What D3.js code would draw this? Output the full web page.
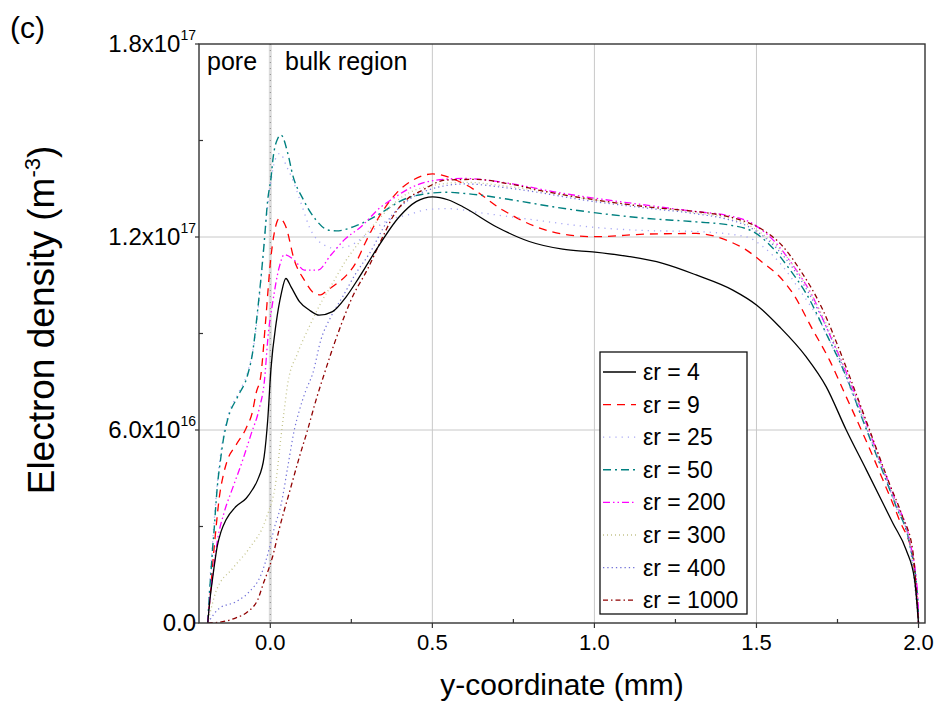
<!DOCTYPE html>
<html><head><meta charset="utf-8">
<script src="https://cdn.jsdelivr.net/npm/d3@7"></script>
<style>body{margin:0;background:#fff} svg{display:block} text{font-family:"Liberation Sans",Arial,Helvetica,sans-serif;fill:#000}</style>
</head><body><svg id="c" width="940" height="705"></svg>
<script>
// ---- data (x: y-coordinate in mm, value: electron density in 1e16 m^-3) ----
const xTicks = [0, 0.5, 1.0, 1.5, 2.0];
const xTickLabels = ["0.0", "0.5", "1.0", "1.5", "2.0"];
const xMinorTicks = [-0.25, 0.25, 0.75, 1.25, 1.75];
const yTicks = [0, 6, 12, 18];
const yTickMantissa = ["0.0", "6.0", "1.2", "1.8"];
const yTickExponent = ["", "16", "17", "17"];
const yMinorTicks = [3, 9, 15];
const legendLabels = ["4", "9", "25", "50", "200", "300", "400", "1000"];

const er4 = [[-0.193,0],[-0.188,0.56],[-0.178,1.39],[-0.163,2.42],[-0.152,2.84],[-0.137,3.2],[-0.106,3.62],[-0.075,3.87],[-0.055,4.15],[-0.039,4.45],[-0.019,5.17],[-0.008,6.31],[0.002,7.9],[0.018,9.32],[0.033,10.2],[0.048,10.71],[0.064,10.45],[0.09,9.99],[0.12,9.73],[0.151,9.57],[0.192,9.68],[0.234,10.14],[0.275,10.76],[0.326,11.59],[0.398,12.63],[0.45,13.1],[0.501,13.25],[0.55,13.15],[0.594,12.94],[0.697,12.32],[0.799,11.86],[0.902,11.62],[1.002,11.53],[1.108,11.39],[1.211,11.18],[1.314,10.82],[1.427,10.35],[1.501,9.88],[1.571,9.21],[1.653,8.28],[1.715,7.35],[1.777,6.0],[1.839,4.76],[1.921,3.1],[1.962,2.27],[1.988,1.34],[2.0,0]];
const er9 = [[-0.193,0],[-0.185,0.9],[-0.178,1.8],[-0.168,2.9],[-0.157,3.93],[-0.145,4.6],[-0.132,5.07],[-0.106,5.53],[-0.075,6.05],[-0.055,6.57],[-0.044,7.14],[-0.029,7.71],[-0.015,9.32],[0.002,11.39],[0.012,12.11],[0.028,12.58],[0.048,12.32],[0.074,11.28],[0.105,10.66],[0.136,10.25],[0.155,10.2],[0.177,10.35],[0.205,10.55],[0.234,10.8],[0.264,11.2],[0.292,11.8],[0.342,12.73],[0.388,13.35],[0.44,13.77],[0.501,13.96],[0.604,13.62],[0.717,12.84],[0.82,12.32],[0.923,12.06],[1.005,12.01],[1.16,12.09],[1.314,12.11],[1.417,11.86],[1.468,11.6],[1.52,11.2],[1.571,10.77],[1.612,10.25],[1.674,9.11],[1.725,8.18],[1.777,7.03],[1.828,5.9],[1.89,4.45],[1.941,3.2],[1.982,2.06],[2.0,0]];
const er25 = [[-0.193,0],[-0.188,1.0],[-0.178,2.5],[-0.163,4.4],[-0.145,5.8],[-0.132,6.4],[-0.101,7.1],[-0.07,7.8],[-0.05,8.7],[-0.03,10.5],[-0.015,12.3],[0.0,13.6],[0.015,14.4],[0.03,14.6],[0.05,14.2],[0.064,13.9],[0.1,12.9],[0.12,12.32],[0.172,11.72],[0.2,11.65],[0.25,11.75],[0.3,12.1],[0.36,12.5],[0.429,12.7],[0.49,12.86],[0.55,12.88],[0.65,12.75],[0.8,12.55],[1.0,12.3],[1.16,12.2],[1.314,12.17],[1.47,12.0],[1.52,11.7],[1.58,11.1],[1.63,10.4],[1.7,9.3],[1.777,7.6],[1.828,6.3],[1.88,5.0],[1.931,3.6],[1.972,2.5],[2.0,0]];
const er50 = [[-0.193,0],[-0.188,0.87],[-0.183,1.59],[-0.178,2.32],[-0.173,2.94],[-0.168,3.67],[-0.163,4.29],[-0.155,4.96],[-0.145,5.69],[-0.132,6.31],[-0.101,7.03],[-0.07,7.71],[-0.055,8.38],[-0.039,9.73],[-0.019,11.8],[-0.008,13.15],[0.002,13.82],[0.009,14.49],[0.023,15.06],[0.033,15.17],[0.054,14.6],[0.069,13.93],[0.1,13.2],[0.141,12.53],[0.177,12.22],[0.203,12.19],[0.269,12.37],[0.331,12.68],[0.372,12.94],[0.398,13.1],[0.47,13.33],[0.542,13.39],[0.604,13.35],[0.748,13.15],[0.872,12.94],[1.005,12.75],[1.16,12.58],[1.314,12.47],[1.417,12.37],[1.489,12.17],[1.551,11.65],[1.602,11.0],[1.653,10.25],[1.715,9.0],[1.777,7.66],[1.828,6.31],[1.88,4.96],[1.931,3.62],[1.972,2.48],[1.998,0.72],[2.0,0]];
const er200 = [[-0.193,0],[-0.185,0.9],[-0.178,1.44],[-0.163,2.58],[-0.142,3.45],[-0.116,4.2],[-0.085,5.07],[-0.06,5.85],[-0.034,6.67],[-0.019,7.45],[-0.006,9.01],[0.007,9.94],[0.028,11.08],[0.043,11.45],[0.074,11.28],[0.105,10.97],[0.146,10.97],[0.187,11.44],[0.228,11.91],[0.28,12.32],[0.342,12.94],[0.372,13.15],[0.429,13.51],[0.501,13.75],[0.594,13.82],[0.748,13.65],[0.872,13.41],[1.005,13.2],[1.16,12.99],[1.314,12.79],[1.406,12.68],[1.478,12.47],[1.551,11.91],[1.623,10.97],[1.674,10.14],[1.715,9.21],[1.777,7.8],[1.828,6.5],[1.88,5.1],[1.931,3.75],[1.972,2.6],[1.998,0.8],[2.0,0]];
const er300 = [[-0.193,0],[-0.18,0.55],[-0.168,0.97],[-0.116,1.7],[-0.065,2.32],[-0.013,3.25],[0.018,4.45],[0.033,5.79],[0.043,6.62],[0.054,7.45],[0.084,8.38],[0.12,9.21],[0.161,10.04],[0.192,10.56],[0.234,11.28],[0.264,11.7],[0.33,12.5],[0.4,13.2],[0.5,13.6],[0.6,13.7],[0.75,13.55],[1.0,13.15],[1.16,12.95],[1.314,12.75],[1.41,12.6],[1.47,12.4],[1.53,12.0],[1.6,11.3],[1.67,10.2],[1.72,9.2],[1.777,7.75],[1.828,6.45],[1.88,5.05],[1.931,3.7],[1.972,2.55],[2.0,0]];
const er400 = [[-0.193,0],[-0.157,0.46],[-0.106,0.66],[-0.065,0.97],[-0.029,1.49],[-0.003,2.32],[0.012,2.94],[0.033,3.67],[0.054,4.86],[0.074,6.0],[0.09,6.62],[0.11,7.24],[0.131,7.76],[0.156,8.8],[0.187,9.52],[0.223,10.14],[0.264,10.87],[0.306,11.49],[0.362,12.5],[0.42,13.1],[0.5,13.5],[0.6,13.65],[0.75,13.5],[1.0,13.1],[1.16,12.9],[1.314,12.72],[1.41,12.55],[1.47,12.35],[1.53,11.95],[1.6,11.2],[1.67,10.1],[1.72,9.1],[1.777,7.7],[1.828,6.35],[1.88,5.0],[1.931,3.65],[1.972,2.5],[2.0,0]];
const er1000 = [[-0.193,0],[-0.147,0.04],[-0.106,0.16],[-0.07,0.35],[-0.039,0.72],[-0.019,1.3],[-0.008,1.59],[0.007,2.06],[0.028,2.94],[0.06,4.1],[0.09,5.17],[0.115,6.0],[0.141,6.93],[0.167,7.76],[0.198,8.7],[0.228,9.52],[0.249,10.04],[0.3,11.0],[0.352,12.11],[0.378,12.63],[0.419,13.15],[0.47,13.46],[0.542,13.77],[0.635,13.79],[0.727,13.67],[0.851,13.41],[1.005,13.15],[1.16,12.94],[1.314,12.79],[1.406,12.65],[1.468,12.47],[1.52,12.22],[1.582,11.7],[1.633,11.0],[1.705,9.73],[1.756,8.49],[1.807,7.14],[1.849,6.0],[1.91,4.34],[1.951,3.3],[1.982,2.27],[2.0,0]];

const seriesData = [er4, er9, er25, er50, er200, er300, er400, er1000];
const seriesColors = ["#000000", "#ff0000", "#a8a8f4", "#008080", "#ff00ff", "#c4c48c", "#7070d8", "#900000"];
const seriesDash = ["none", "8,6", "1.2,5", "8,4,2,4", "7,3,1.5,3,1.5,3", "1,3", "1.3,3", "5,3,1.5,3"];
const seriesWidth = [1.3, 1.3, 1.3, 1.4, 1.3, 1.3, 1.2, 1.3];

// ---- layout ----
const svg = d3.select("#c");
const L = 199, R = 925, T = 44, B = 623;
const x = d3.scaleLinear().domain([-0.22, 2.02]).range([L, R]);
const y = d3.scaleLinear().domain([0, 18]).range([B, T]);

svg.append("defs").append("clipPath").attr("id", "clip")
  .append("rect").attr("x", L).attr("y", T).attr("width", R - L).attr("height", B - T);

// grid
const grid = svg.append("g");
grid.selectAll("line.gv").data([0.5, 1.0, 1.5]).join("line")
  .attr("x1", d => x(d)).attr("x2", d => x(d)).attr("y1", T).attr("y2", B)
  .attr("stroke", "#c8c8c8").attr("stroke-width", 1);
grid.selectAll("line.gh").data([6, 12]).join("line")
  .attr("x1", L).attr("x2", R).attr("y1", d => y(d)).attr("y2", d => y(d))
  .attr("stroke", "#c8c8c8").attr("stroke-width", 1);
// pore boundary
grid.append("line").attr("x1", x(0)).attr("x2", x(0)).attr("y1", T).attr("y2", B)
  .attr("stroke", "#dcdcdc").attr("stroke-width", 3);
grid.append("line").attr("x1", x(0)).attr("x2", x(0)).attr("y1", T).attr("y2", B)
  .attr("stroke", "#8a8a8a").attr("stroke-width", 1).attr("stroke-dasharray", "1,5");

// curves
const line = d3.line().x(d => x(d[0])).y(d => y(d[1])).curve(d3.curveMonotoneX);
const order = [1, 2, 3, 4, 5, 6, 7, 0];
const cg = svg.append("g").attr("clip-path", "url(#clip)");
order.forEach(i => {
  cg.append("path").attr("d", line(seriesData[i])).attr("fill", "none")
    .attr("stroke", seriesColors[i]).attr("stroke-width", seriesWidth[i])
    .attr("stroke-dasharray", seriesDash[i] === "none" ? null : seriesDash[i]);
});

// frame
svg.append("rect").attr("x", L).attr("y", T).attr("width", R - L).attr("height", B - T)
  .attr("fill", "none").attr("stroke", "#333").attr("stroke-width", 1.4);

// axes ticks
const ax = svg.append("g").attr("stroke", "#333").attr("stroke-width", 1.2);
ax.selectAll("line.xt").data(xTicks).join("line")
  .attr("x1", d => x(d)).attr("x2", d => x(d)).attr("y1", B).attr("y2", B + 5);
ax.selectAll("line.xm").data(xMinorTicks.filter(d => d > -0.22)).join("line")
  .attr("x1", d => x(d)).attr("x2", d => x(d)).attr("y1", B).attr("y2", B - 4);
ax.selectAll("line.yt").data(yTicks).join("line")
  .attr("x1", L - 4).attr("x2", L).attr("y1", d => y(d)).attr("y2", d => y(d));
ax.selectAll("line.ym").data(yMinorTicks).join("line")
  .attr("x1", L).attr("x2", L + 4).attr("y1", d => y(d)).attr("y2", d => y(d));

// x tick labels
svg.selectAll("text.xl").data(xTicks).join("text")
  .attr("x", d => x(d)).attr("y", B + 27).attr("text-anchor", "middle")
  .attr("font-size", 22).text((d, i) => xTickLabels[i]);

// y tick labels
yTicks.forEach((d, i) => {
  const t = svg.append("text").attr("x", L - 3).attr("y", y(d) + 8)
    .attr("text-anchor", "end").attr("font-size", 24);
  t.append("tspan").text(yTickMantissa[i] + (yTickExponent[i] ? "x10" : ""));
  if (yTickExponent[i]) {
    t.append("tspan").attr("dy", -12).attr("font-size", 14).text(yTickExponent[i]);
  }
});

// axis titles
svg.append("text").attr("x", (L + R) / 2).attr("y", 695).attr("text-anchor", "middle")
  .attr("font-size", 30).text("y-coordinate (mm)");
const yt = svg.append("text").attr("transform", "translate(54,320) rotate(-90)")
  .attr("text-anchor", "middle").attr("font-size", 37);
yt.append("tspan").text("Electron density (m");
yt.append("tspan").attr("dy", -14).attr("font-size", 22).text("-3");
yt.append("tspan").attr("dy", 14).text(")");

// panel label and region labels
svg.append("text").attr("x", 10).attr("y", 38).attr("font-size", 30).text("(c)");
svg.append("text").attr("x", 207).attr("y", 70).attr("font-size", 25).text("pore");
svg.append("text").attr("x", 285).attr("y", 70).attr("font-size", 25).text("bulk region");

// legend
const lg = svg.append("g");
const lx = 600, ly = 352, lw = 147, lh = 262, rowH = 32.6, row0 = 372;
lg.append("rect").attr("x", lx).attr("y", ly).attr("width", lw).attr("height", lh)
  .attr("fill", "#fff").attr("stroke", "#111").attr("stroke-width", 1.3);
legendLabels.forEach((lab, i) => {
  const cy = row0 + i * rowH;
  lg.append("line").attr("x1", lx + 3).attr("x2", lx + 36).attr("y1", cy).attr("y2", cy)
    .attr("stroke", seriesColors[i]).attr("stroke-width", seriesWidth[i])
    .attr("stroke-dasharray", seriesDash[i] === "none" ? null : seriesDash[i]);
  lg.append("text").attr("x", lx + 43).attr("y", cy + 8).attr("font-size", 23)
    .text("\u03b5r = " + lab);
});
</script></body></html>
